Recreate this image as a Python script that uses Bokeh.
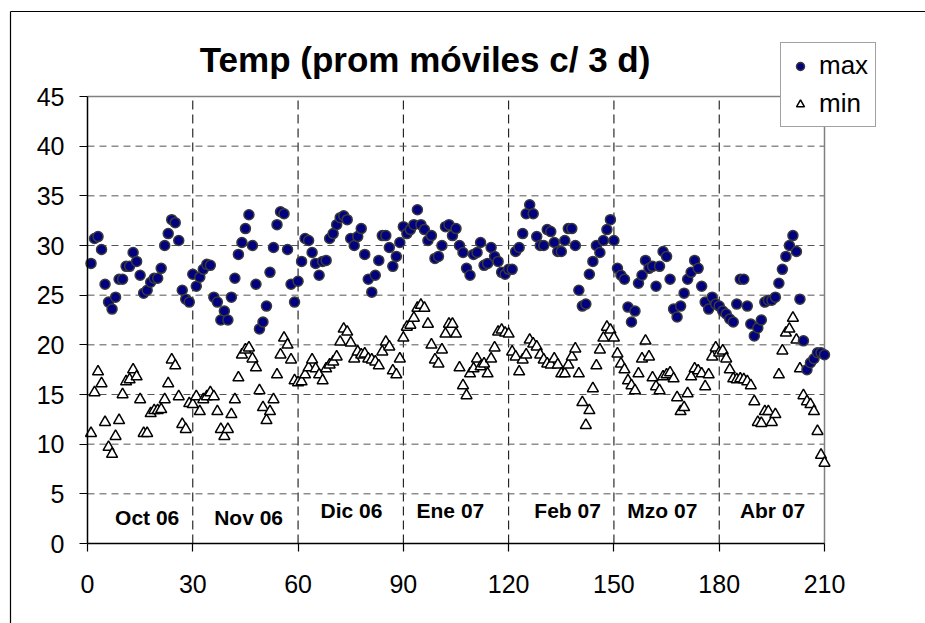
from bokeh.plotting import figure
from bokeh.models import (Range1d, FixedTicker, Label, Legend, LegendItem, ColumnDataSource)
from bokeh.core.properties import value
from bokeh.embed import file_html
from bokeh.resources import INLINE

# ---- data ----
days = list(range(1, 211))
t_max = [28.2,30.7,30.9,29.6,26.1,24.3,23.6,24.8,26.6,26.6,
         27.9,27.9,29.3,28.4,27.0,25.2,25.5,26.3,26.7,26.7,
         27.7,30.0,31.2,32.6,32.3,30.5,25.5,24.6,24.3,27.1,
         25.9,26.8,27.6,28.1,28.0,24.8,24.3,22.5,23.4,22.5,
         24.8,26.7,29.1,30.3,31.7,33.1,30.0,26.1,21.6,22.3,
         23.9,27.3,29.8,32.1,33.4,33.2,29.6,26.1,24.3,26.4,
         28.4,30.7,30.5,29.3,28.2,27.0,28.4,28.5,30.7,31.2,
         32.1,32.8,33.0,32.6,30.7,30.0,30.9,31.7,29.1,26.6,
         25.3,27.0,28.5,31.0,31.0,29.8,27.9,28.9,30.3,31.9,
         31.2,31.6,32.1,33.6,32.1,31.6,30.5,31.0,28.7,28.9,
         30.0,31.9,32.1,31.0,31.7,30.0,29.3,27.7,27.0,29.1,
         29.3,30.3,28.0,28.2,29.8,28.9,28.4,27.3,27.1,27.6,
         27.6,29.4,29.8,31.2,33.2,34.1,33.2,30.9,30.0,30.0,
         31.6,31.4,30.3,29.4,29.4,30.5,31.7,31.7,30.0,25.5,
         23.9,24.1,27.1,28.4,30.0,29.3,30.5,31.6,32.6,30.5,
         27.7,27.0,26.6,23.8,22.3,23.4,26.2,27.0,28.5,27.7,
         27.9,25.9,27.9,29.4,28.9,26.6,23.6,22.8,23.9,25.2,
         26.6,27.3,28.5,27.7,25.9,24.3,23.6,24.8,24.1,23.9,
         23.4,23.1,22.6,22.3,24.1,26.6,26.6,23.9,22.1,20.9,
         21.7,22.5,24.3,24.5,24.5,24.8,26.2,27.6,28.9,30.0,
         31.0,29.4,24.6,20.4,17.5,18.2,18.6,19.2,19.2,19.0]
t_min = [11.1,15.2,17.3,16.1,12.2,9.7,9.0,10.8,12.4,15.0,
         16.3,16.5,17.5,16.8,14.5,11.1,11.1,13.1,13.4,13.4,
         13.5,14.5,16.1,18.5,17.9,14.8,12.0,11.5,14.1,14.0,
         14.8,13.3,14.5,14.8,15.2,14.8,13.3,11.5,10.8,11.5,
         13.0,14.5,16.7,19.0,19.5,19.7,18.6,17.7,15.4,13.7,
         12.4,13.3,14.5,17.0,19.0,20.7,20.0,18.5,16.4,16.2,
         16.3,17.0,17.7,18.5,17.6,17.0,16.4,17.6,18.0,18.3,
         18.8,20.3,21.6,21.3,20.2,18.6,19.3,19.0,19.1,18.6,
         18.5,18.3,17.9,19.3,20.3,19.8,17.4,17.0,18.6,20.7,
         21.8,22.0,22.7,23.7,24.0,23.7,22.1,20.0,18.5,18.1,
         19.5,21.1,22.1,22.1,21.1,17.7,15.9,14.9,17.1,17.6,
         18.6,17.8,18.1,17.1,18.6,19.7,21.3,21.5,21.2,21.1,
         19.3,18.8,17.3,18.5,19.0,20.5,20.1,19.8,19.0,18.5,
         18.1,18.0,18.6,18.0,17.1,17.1,18.0,18.8,19.6,17.1,
         14.2,11.9,13.4,15.6,17.9,19.5,20.7,21.8,21.5,20.7,
         19.1,18.1,17.5,16.4,15.9,15.4,17.1,18.6,20.4,18.8,
         16.7,15.8,15.4,16.8,17.0,17.2,16.6,14.7,13.3,13.7,
         15.1,16.8,17.6,17.4,17.1,15.8,17.0,18.8,19.7,19.2,
         19.4,18.6,17.5,16.6,16.5,16.6,16.5,16.3,15.9,14.3,
         12.2,12.1,13.3,13.3,12.2,13.0,17.0,19.4,21.2,21.6,
         22.7,20.5,17.6,14.9,14.3,14.0,13.3,11.3,8.9,8.1]
month_labels = ["Oct 06", "Nov 06", "Dic 06", "Ene 07", "Feb 07", "Mzo 07", "Abr 07"]
x_ticks = [0, 30, 60, 90, 120, 150, 180, 210]
y_ticks = [0, 5, 10, 15, 20, 25, 30, 35, 40, 45]
title_text = "Temp (prom móviles c/ 3 d)"

# ---- layout (frame covers the whole canvas; axes are pinned at 0) ----
FONT = "Liberation Sans"
X_MAX, Y_MAX = x_ticks[-1], y_ticks[-1]
W, H = 925, 623             # canvas size
OX, OY = 87, 543            # canvas px of the (0, 0) corner
PX_X = 737 / X_MAX          # px per day
PX_Y = 447 / Y_MAX          # px per degree
x_lo, x_hi = -OX / PX_X, (W - OX) / PX_X
y_lo, y_hi = -(H - OY) / PX_Y, OY / PX_Y

p = figure(frame_width=W, frame_height=H,
           min_border_left=0, min_border_right=0,
           min_border_top=0, min_border_bottom=0,
           x_range=Range1d(x_lo, x_hi), y_range=Range1d(y_lo, y_hi),
           output_backend="svg", toolbar_location=None,
           background_fill_color="white", border_fill_color="white")
p.outline_line_color = None
p.grid.visible = False

for ax, ticks in ((p.xaxis, x_ticks), (p.yaxis, y_ticks)):
    ax.fixed_location = 0
    ax.ticker = FixedTicker(ticks=ticks)
    ax.bounds = (ticks[0], ticks[-1])
    ax.minor_tick_line_color = None
    ax.major_tick_in = 0
    ax.major_tick_out = 8
    ax.major_tick_line_color = "black"
    ax.major_tick_line_width = 1.2
    ax.axis_line_color = "black"
    ax.axis_line_width = 1.5
    ax.major_label_text_font = FONT
    ax.major_label_text_font_size = "25px"
    ax.major_label_text_color = "black"
p.xaxis.major_label_standoff = 23
p.yaxis.major_label_standoff = 15

# outer chart border (left and top edges visible)
bx, by = (10 - OX) / PX_X, (OY - 11) / PX_Y
p.segment(x0=[bx, bx], y0=[y_lo, by], x1=[bx, x_hi], y1=[by, by],
          line_color="black", line_width=1.2)

# plot-area grid (limited to the 0-210 x 0-45 box)
vx = x_ticks[1:-1]
p.segment(x0=vx, y0=[0] * len(vx), x1=vx, y1=[Y_MAX] * len(vx),
          line_color="black", line_width=1, line_dash="9 5")
hy = y_ticks[1:-1]
p.segment(x0=[0] * len(hy), y0=hy, x1=[X_MAX] * len(hy), y1=hy,
          line_color="#555555", line_width=1, line_dash="7 5")
p.segment(x0=[0, X_MAX], y0=[Y_MAX, 0], x1=[X_MAX, X_MAX], y1=[Y_MAX, Y_MAX],
          line_color="#808080", line_width=1.5)

# data
src = ColumnDataSource(dict(day=days, tmax=t_max, tmin=t_min))
r_min = p.scatter("day", "tmin", source=src, marker="triangle", size=11,
                  fill_color="white", line_color="black", line_width=1.5)
r_max = p.scatter("day", "tmax", source=src, marker="circle", size=10,
                  fill_color="#000080", line_color="#3a3a3a", line_width=1.5)

# month labels
month_x = [17, 45.9, 75.2, 103.4, 136.8, 163.8, 195.2]
month_y = [2.62, 2.62, 3.32, 3.32, 3.32, 3.32, 3.32]
p.text(x=month_x, y=month_y, text=month_labels, text_font=value(FONT),
       text_font_style="bold", text_font_size="21px", text_align="center",
       text_baseline="middle", text_color="black")

# title
p.add_layout(Label(x=96.2, y=48.7, text=title_text, text_font=FONT,
                   text_font_style="bold", text_font_size="35px",
                   text_align="center", text_baseline="alphabetic",
                   text_color="black"))

# legend (offset in px from the canvas' bottom-left corner)
legend = Legend(items=[LegendItem(label="max", renderers=[r_max]),
                       LegendItem(label="min", renderers=[r_min])],
                location=(780, H - 127), orientation="vertical",
                label_text_font=FONT, label_text_font_size="26px",
                label_text_color="black",
                glyph_width=24, glyph_height=20, label_height=30,
                label_standoff=7, spacing=7, padding=7, margin=0,
                border_line_color="#444444", border_line_width=1,
                background_fill_color="white", background_fill_alpha=1)
p.add_layout(legend, "center")

open("out.html", "w").write(file_html(p, INLINE))
